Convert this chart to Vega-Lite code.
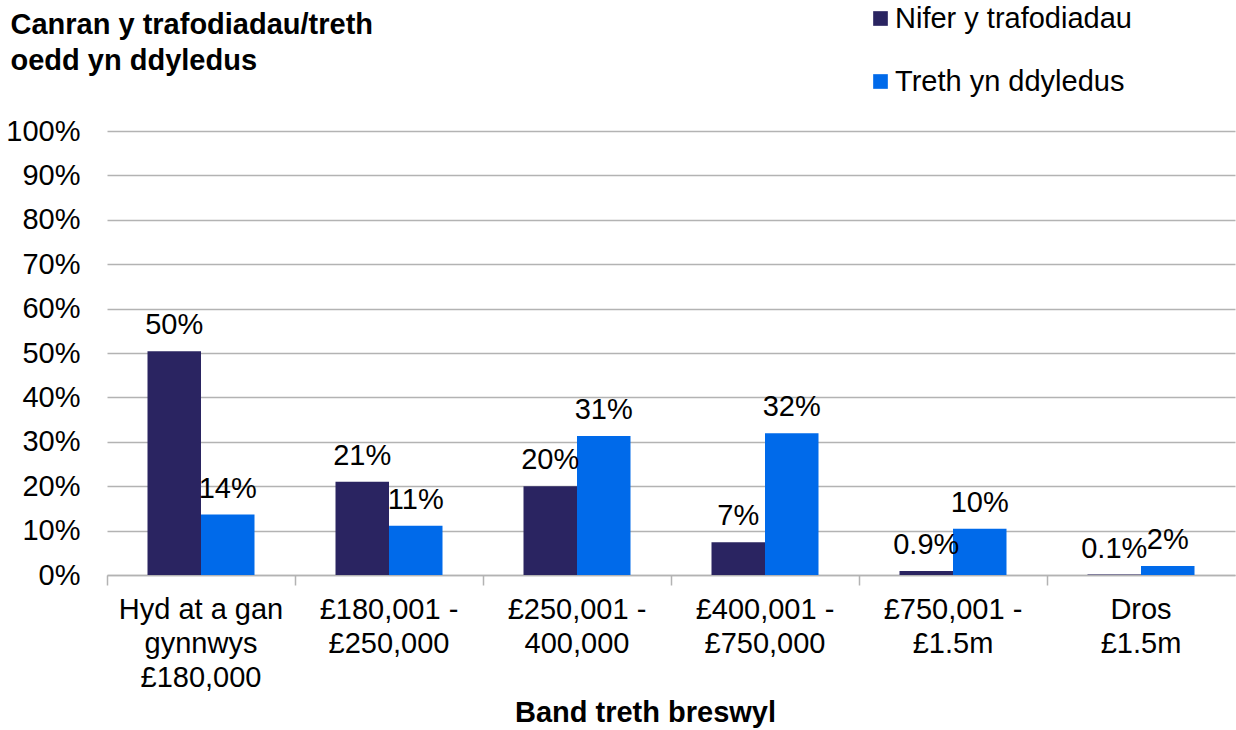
{
  "$schema": "https://vega.github.io/schema/vega-lite/v6.json",
  "autosize": "none",
  "width": 1128,
  "height": 444,
  "padding": {"left": 107, "top": 131, "right": 1, "bottom": 155},
  "background": "white",
  "config": {
    "font": "Liberation Sans",
    "view": {"stroke": null}
  },
  "data": {
    "values": [
      {"band": "Hyd at a gan|gynnwys|£180,000", "series": "Nifer y trafodiadau", "value": 50.4, "label": "50%"},
      {"band": "Hyd at a gan|gynnwys|£180,000", "series": "Treth yn ddyledus", "value": 13.6, "label": "14%"},
      {"band": "£180,001 -|£250,000", "series": "Nifer y trafodiadau", "value": 21.0, "label": "21%"},
      {"band": "£180,001 -|£250,000", "series": "Treth yn ddyledus", "value": 11.1, "label": "11%"},
      {"band": "£250,001 -|400,000", "series": "Nifer y trafodiadau", "value": 20.0, "label": "20%"},
      {"band": "£250,001 -|400,000", "series": "Treth yn ddyledus", "value": 31.3, "label": "31%"},
      {"band": "£400,001 -|£750,000", "series": "Nifer y trafodiadau", "value": 7.4, "label": "7%"},
      {"band": "£400,001 -|£750,000", "series": "Treth yn ddyledus", "value": 31.9, "label": "32%"},
      {"band": "£750,001 -|£1.5m", "series": "Nifer y trafodiadau", "value": 0.9, "label": "0.9%"},
      {"band": "£750,001 -|£1.5m", "series": "Treth yn ddyledus", "value": 10.4, "label": "10%"},
      {"band": "Dros|£1.5m", "series": "Nifer y trafodiadau", "value": 0.1, "label": "0.1%"},
      {"band": "Dros|£1.5m", "series": "Treth yn ddyledus", "value": 2.0, "label": "2%"}
    ]
  },
  "encoding": {
    "x": {
      "field": "band",
      "type": "nominal",
      "sort": null,
      "scale": {"paddingInner": 0, "paddingOuter": 0},
      "axis": {
        "title": "Band treth breswyl",
        "titleFontSize": 29,
        "titleFontWeight": "bold",
        "titleColor": "black",
        "titleX": 538,
        "titleY": 146,
        "titleBaseline": "alphabetic",
        "titleAlign": "center",
        "labelAngle": 0,
        "labelExpr": "split(datum.label, '|')",
        "labelFontSize": 29,
        "labelColor": "black",
        "labelLineHeight": 34,
        "labelBaseline": "top",
        "labelPadding": 10,
        "labelLimit": 0,
        "bandPosition": 0,
        "tickSize": 10,
        "tickColor": "#B3B3B3",
        "tickWidth": 1.5,
        "domainColor": "#B3B3B3",
        "domainWidth": 1.5,
        "grid": false
      }
    },
    "xOffset": {
      "field": "series",
      "type": "nominal",
      "sort": ["Nifer y trafodiadau", "Treth yn ddyledus"],
      "scale": {"paddingInner": 0, "paddingOuter": 0.757}
    },
    "y": {
      "field": "value",
      "type": "quantitative",
      "scale": {"domain": [0, 100], "nice": false},
      "axis": {
        "values": [0, 10, 20, 30, 40, 50, 60, 70, 80, 90, 100],
        "labelExpr": "datum.value + '%'",
        "labelFontSize": 29,
        "labelColor": "black",
        "labelPadding": 27,
        "ticks": false,
        "domain": false,
        "grid": true,
        "gridColor": "#B3B3B3",
        "gridWidth": 1.5,
        "title": ["Canran y trafodiadau/treth", "oedd yn ddyledus"],
        "titleFontSize": 29,
        "titleFontWeight": "bold",
        "titleColor": "black",
        "titleAngle": 0,
        "titleAlign": "left",
        "titleBaseline": "alphabetic",
        "titleX": -97,
        "titleY": -98,
        "titleLineHeight": 36
      }
    }
  },
  "layer": [
    {
      "mark": {"type": "bar"},
      "encoding": {
        "color": {
          "field": "series",
          "type": "nominal",
          "scale": {
            "domain": ["Nifer y trafodiadau", "Treth yn ddyledus"],
            "range": ["#2A2461", "#006AEA"]
          },
          "legend": {
            "title": null,
            "orient": "none",
            "legendX": 759,
            "legendY": -127,
            "symbolType": "square",
            "symbolSize": 215,
            "symbolStrokeWidth": 0,
            "labelFontSize": 29,
            "labelColor": "black",
            "labelOffset": 0,
            "rowPadding": 33,
            "labelLimit": 0,
            "padding": 0
          }
        }
      }
    },
    {
      "mark": {"type": "text", "fontSize": 29, "color": "black", "baseline": "alphabetic", "dy": -17},
      "encoding": {
        "text": {"field": "label", "type": "nominal"}
      }
    }
  ]
}
